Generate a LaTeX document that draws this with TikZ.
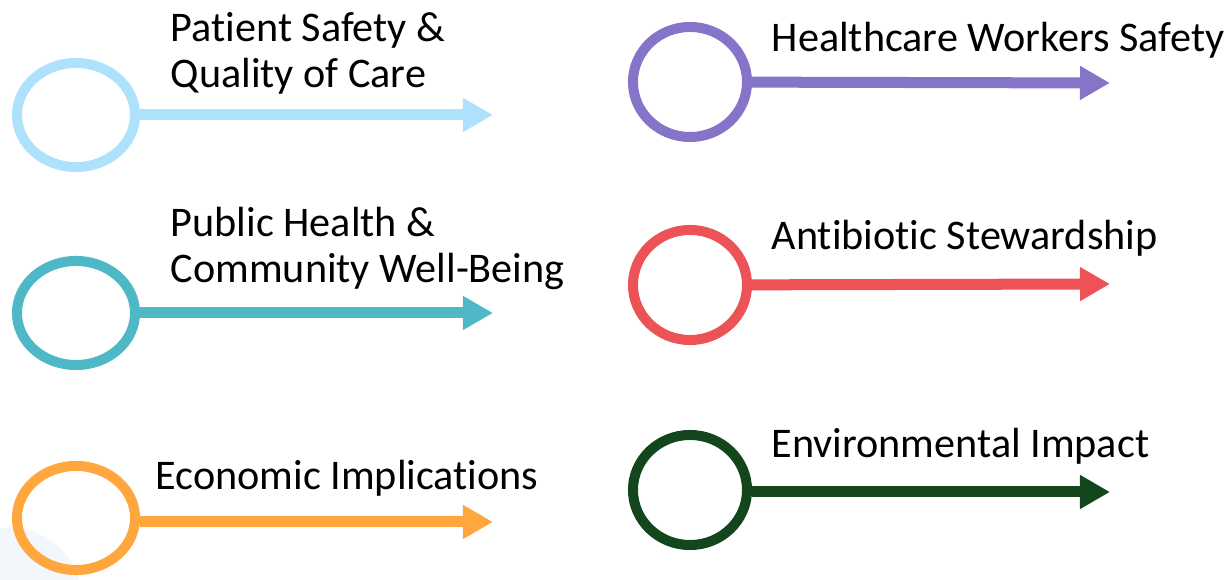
\documentclass[tikz,border=0pt]{standalone}
\usepackage{fontspec}
\setmainfont[Ligatures=NoCommon]{Carlito}
\usepackage{xcolor}
\usetikzlibrary{shapes,arrows.meta,positioning}
\definecolor{skyring}{RGB}{174, 225, 251}
\definecolor{tealring}{RGB}{79, 184, 198}
\definecolor{orangering}{RGB}{255, 166, 63}
\definecolor{purplering}{RGB}{133, 116, 200}
\definecolor{redring}{RGB}{236, 82, 86}
\definecolor{greenring}{RGB}{20, 70, 30}
\definecolor{haze}{RGB}{243, 246, 250}

\begin{document}
\begin{tikzpicture}[
    x=0.01cm, y=-0.01cm,
    ring/.style={ellipse, draw, line width=0.1cm, inner sep=0pt, minimum width=1.18cm, minimum height=1.04cm},
    roundring/.style={ring, minimum width=1.14cm, minimum height=1.1cm},
    flow/.style={-{Triangle[length=0.3cm, width=0.32cm]}, line width=0.11cm},
    label/.style={anchor=base west, align=left, inner sep=0pt, font=\fontsize{12}{13.1}\selectfont}
]
\useasboundingbox (0,0) rectangle (1227,580);
\fill[haze] (10,600) circle (0.72cm);

% Nodes
\node[ring, draw=skyring] (patient) at (76,115) {};
\node[ring, draw=tealring] (public) at (76,313) {};
\node[ring, draw=orangering] (economic) at (76,518) {};
\node[roundring, draw=purplering] (workers) at (690,82) {};
\node[roundring, draw=redring] (antibiotic) at (690,285) {};
\node[roundring, draw=greenring] (environment) at (690,490) {};

\coordinate (patient-tip) at (493,115);
\coordinate (public-tip) at (493,313);
\coordinate (economic-tip) at (493,522);
\coordinate (workers-tip) at (1110,83);
\coordinate (antibiotic-tip) at (1110,284);
\coordinate (environment-tip) at (1110,492);

% Arrows
\draw[flow, skyring] (patient) -- (patient-tip);
\draw[flow, tealring] (public) -- (public-tip);
\draw[flow, orangering] (economic.east |- economic-tip) -- (economic-tip);
\draw[flow, purplering] (workers) -- (workers-tip);
\draw[flow, redring] (antibiotic) -- (antibiotic-tip);
\draw[flow, greenring] (environment.east |- environment-tip) -- (environment-tip);

% Labels (base is the last line)
\node[label] (patient-text) at (170,88) {Patient Safety \&\\Quality of Care};
\node[label] (public-text) at (170,283) {Public Health \&\\Community Well-Being};
\node[label] (economic-text) at (155,490) {Economic Implications};
\node[label] (workers-text) at (771,52) {Healthcare Workers Safety};
\node[label] (antibiotic-text) at (771,250) {Antibiotic Stewardship};
\node[label] (environment-text) at (771,458) {Environmental Impact};
\end{tikzpicture}
\end{document}
